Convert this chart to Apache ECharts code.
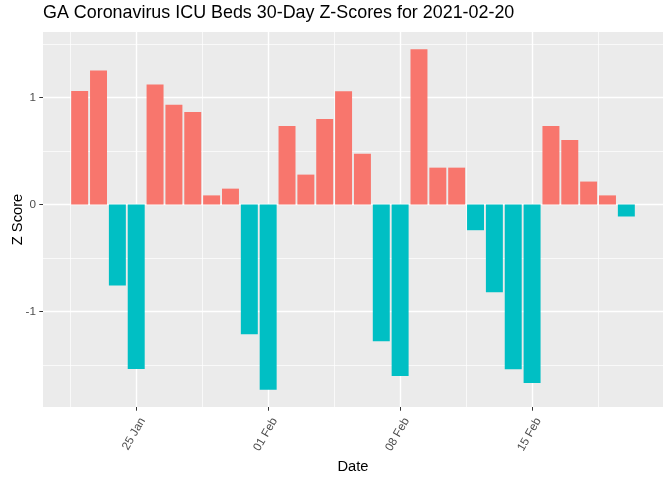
<!DOCTYPE html>
<html>
<head>
<meta charset="utf-8">
<script src="https://cdn.jsdelivr.net/npm/echarts@6/dist/echarts.min.js"></script>
<style>html,body{margin:0;padding:0;background:#fff}#c{width:672px;height:480px}</style>
</head>
<body>
<div id="c"></div>
<script>
const titleText = 'GA Coronavirus ICU Beds 30-Day Z-Scores for 2021-02-20';
const dates = ['2021-01-22','2021-01-23','2021-01-24','2021-01-25','2021-01-26','2021-01-27','2021-01-28','2021-01-29','2021-01-30','2021-01-31',
  '2021-02-01','2021-02-02','2021-02-03','2021-02-04','2021-02-05','2021-02-06','2021-02-07','2021-02-08','2021-02-09','2021-02-10',
  '2021-02-11','2021-02-12','2021-02-13','2021-02-14','2021-02-15','2021-02-16','2021-02-17','2021-02-18','2021-02-19','2021-02-20'];
const zScores = [1.06, 1.25, -0.755, -1.535, 1.12, 0.93, 0.863, 0.085, 0.148, -1.21,
  -1.73, 0.733, 0.279, 0.798, 1.058, 0.474, -1.276, -1.60, 1.449, 0.344,
  0.344, -0.24, -0.82, -1.537, -1.667, 0.733, 0.603, 0.214, 0.085, -0.112];
const xTickDates = ['2021-01-25','2021-02-01','2021-02-08','2021-02-15'];
const xTickLabels = ['25 Jan','01 Feb','08 Feb','15 Feb'];
const xMinorOffsets = [-0.5, 6.5, 13.5, 20.5, 27.5]; // day offsets halfway between weekly breaks
const yTicks = [-1, 0, 1];
const yMinorTicks = [-1.5, -0.5, 0.5, 1.5];

const xTickIdx = xTickDates.map(d => dates.indexOf(d));
const posColor = '#F8766D', negColor = '#00BFC4';
const pad = 1.945;
const xMin = -pad, xMax = dates.length - 1 + pad;
const yMin = -1.89, yMax = 1.61;
const FONT = 'Liberation Sans, Arial, sans-serif';

const chart = echarts.init(document.getElementById('c'));
chart.setOption({
  animation: false,
  backgroundColor: '#ffffff',
  title: {
    text: titleText, left: 43, top: 4, padding: 0,
    textStyle: {fontFamily: FONT, fontSize: 17.9, fontWeight: 'normal', color: '#000'}
  },
  grid: {left: 43, right: 9, top: 32, bottom: 73, show: true, backgroundColor: '#EBEBEB', borderWidth: 0,
    containLabel: false, outerBoundsMode: 'none'},
  xAxis: [{
    type: 'value', min: xMin, max: xMax,
    name: 'Date', nameLocation: 'middle', nameGap: 52, nameMoveOverlap: false,
    nameTextStyle: {fontFamily: FONT, fontSize: 14.7, color: '#000'},
    axisLine: {show: false, onZero: false},
    axisTick: {show: true, length: 3.7, lineStyle: {color: '#333333', width: 1}, customValues: xTickIdx},
    axisLabel: {rotate: 60, margin: 8, verticalAlign: 'top', lineHeight: 15, fontFamily: FONT, fontSize: 11.7, color: '#4D4D4D',
      customValues: xTickIdx,
      formatter: v => { const i = xTickIdx.indexOf(Math.round(v)); return i >= 0 ? xTickLabels[i] : ''; }},
    splitLine: {show: true, lineStyle: {color: '#ffffff', width: 1.4}}
  }, {
    type: 'value', min: xMin, max: xMax, position: 'bottom',
    axisLine: {show: false, onZero: false}, axisTick: {show: false, customValues: xMinorOffsets},
    axisLabel: {show: false, customValues: xMinorOffsets},
    splitLine: {show: true, lineStyle: {color: '#ffffff', width: 0.7}}
  }],
  yAxis: [{
    type: 'value', min: yMin, max: yMax,
    name: 'Z Score', nameLocation: 'middle', nameGap: 18, nameRotate: 90, nameMoveOverlap: false,
    nameTextStyle: {fontFamily: FONT, fontSize: 14.7, color: '#000'},
    axisLine: {show: false, onZero: false},
    axisTick: {show: true, length: 3.7, lineStyle: {color: '#333333', width: 1}, customValues: yTicks},
    axisLabel: {margin: 7, fontFamily: FONT, fontSize: 11.7, color: '#4D4D4D', customValues: yTicks},
    splitLine: {show: true, lineStyle: {color: '#ffffff', width: 1.4}}
  }, {
    type: 'value', min: yMin, max: yMax, position: 'left',
    axisLine: {show: false, onZero: false}, axisTick: {show: false, customValues: yMinorTicks},
    axisLabel: {show: false, customValues: yMinorTicks},
    splitLine: {show: true, lineStyle: {color: '#ffffff', width: 0.7}}
  }],
  series: [{
    type: 'custom', xAxisIndex: 0, yAxisIndex: 0,
    data: zScores.map((v, i) => [i, v]),
    encode: {x: 0, y: 1},
    z: 3,
    renderItem: (params, api) => {
      const x = api.value(0), y = api.value(1);
      const top = api.coord([x, y]);
      const base = api.coord([x, 0]);
      const w = api.size([0.9, 0])[0];
      return {
        type: 'rect',
        shape: {x: top[0] - w / 2, y: Math.min(top[1], base[1]), width: w, height: Math.abs(base[1] - top[1])},
        style: {fill: y >= 0 ? posColor : negColor}
      };
    }
  }]
});
</script>
</body>
</html>
